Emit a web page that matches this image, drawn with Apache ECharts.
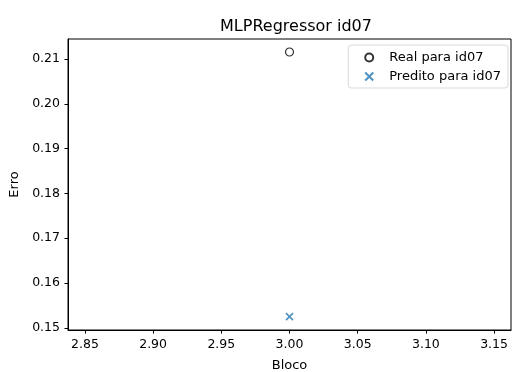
<!DOCTYPE html>
<html>
<head>
<meta charset="utf-8">
<script src="https://cdn.jsdelivr.net/npm/echarts@6/dist/echarts.min.js"></script>
<style>
  html, body { margin: 0; padding: 0; background: #fff; }
  #chart { width: 512px; height: 372px; }
</style>
</head>
<body>
<div id="chart"></div>
<script>
// data
var bloco = [3.0];
var realErro = [0.2116];
var preditoErro = [0.1525];
var xTicks = [2.85, 2.90, 2.95, 3.00, 3.05, 3.10, 3.15];
var yTicks = [0.15, 0.16, 0.17, 0.18, 0.19, 0.20, 0.21];

var font = 'DejaVu Sans';
var myChart = echarts.init(document.getElementById('chart'));

var option = {
  animation: false,
  title: {
    text: 'MLPRegressor id07',
    left: 291, top: 14, textAlign: 'center',
    textStyle: { fontFamily: font, fontSize: 16, fontWeight: 'normal', color: '#000' }
  },
  grid: {
    left: 68, right: 1, top: 39, bottom: 42,
    outerBoundsMode: 'none', containLabel: false,
    show: true, borderColor: '#000', borderWidth: 1
  },
  legend: {
    orient: 'vertical',
    right: 4, top: 45,
    padding: [6, 7, 5, 16],
    itemGap: 6,
    itemWidth: 8, itemHeight: 8,
    borderColor: '#d9d9d9', borderWidth: 1, borderRadius: 3,
    textStyle: { fontFamily: font, fontSize: 13, color: '#000', padding: [0, 0, 0, 11] },
    data: ['Real para id07', 'Predito para id07']
  },
  xAxis: {
    type: 'value',
    min: 2.8376, max: 3.1624,
    name: 'Bloco', nameLocation: 'middle', nameGap: 29,
    nameTextStyle: { fontFamily: font, fontSize: 13, color: '#000' },
    splitLine: { show: false },
    axisLine: { show: true, lineStyle: { color: '#000' } },
    axisTick: { show: true, length: 3.5, lineStyle: { color: '#000' }, customValues: xTicks },
    axisLabel: {
      fontFamily: font, fontSize: 12.5, color: '#000', margin: 8,
      customValues: xTicks,
      formatter: function (v) { return v.toFixed(2); }
    }
  },
  yAxis: {
    type: 'value',
    min: 0.1495, max: 0.2145,
    name: 'Erro', nameLocation: 'middle', nameGap: 46,
    nameTextStyle: { fontFamily: font, fontSize: 13, color: '#000' },
    splitLine: { show: false },
    axisLine: { show: true, lineStyle: { color: '#000' } },
    axisTick: { show: true, length: 3.5, lineStyle: { color: '#000' }, customValues: yTicks },
    axisLabel: {
      fontFamily: font, fontSize: 12.5, color: '#000', margin: 8,
      customValues: yTicks,
      formatter: function (v) { return v.toFixed(2); }
    }
  },
  series: [
    {
      name: 'Real para id07',
      type: 'scatter',
      symbol: 'circle',
      symbolSize: 8,
      itemStyle: { color: 'rgba(0,0,0,0)', borderColor: '#000', borderWidth: 1.2 },
      data: bloco.map(function (x, i) { return [x, realErro[i]]; })
    },
    {
      name: 'Predito para id07',
      type: 'scatter',
      symbol: 'path://M0,0L10,10M10,0L0,10',
      symbolSize: 7,
      itemStyle: { color: '#1f77b4', borderColor: '#1f77b4', borderWidth: 1.6 },
      data: bloco.map(function (x, i) { return [x, preditoErro[i]]; })
    }
  ]
};
myChart.setOption(option);
</script>
</body>
</html>
